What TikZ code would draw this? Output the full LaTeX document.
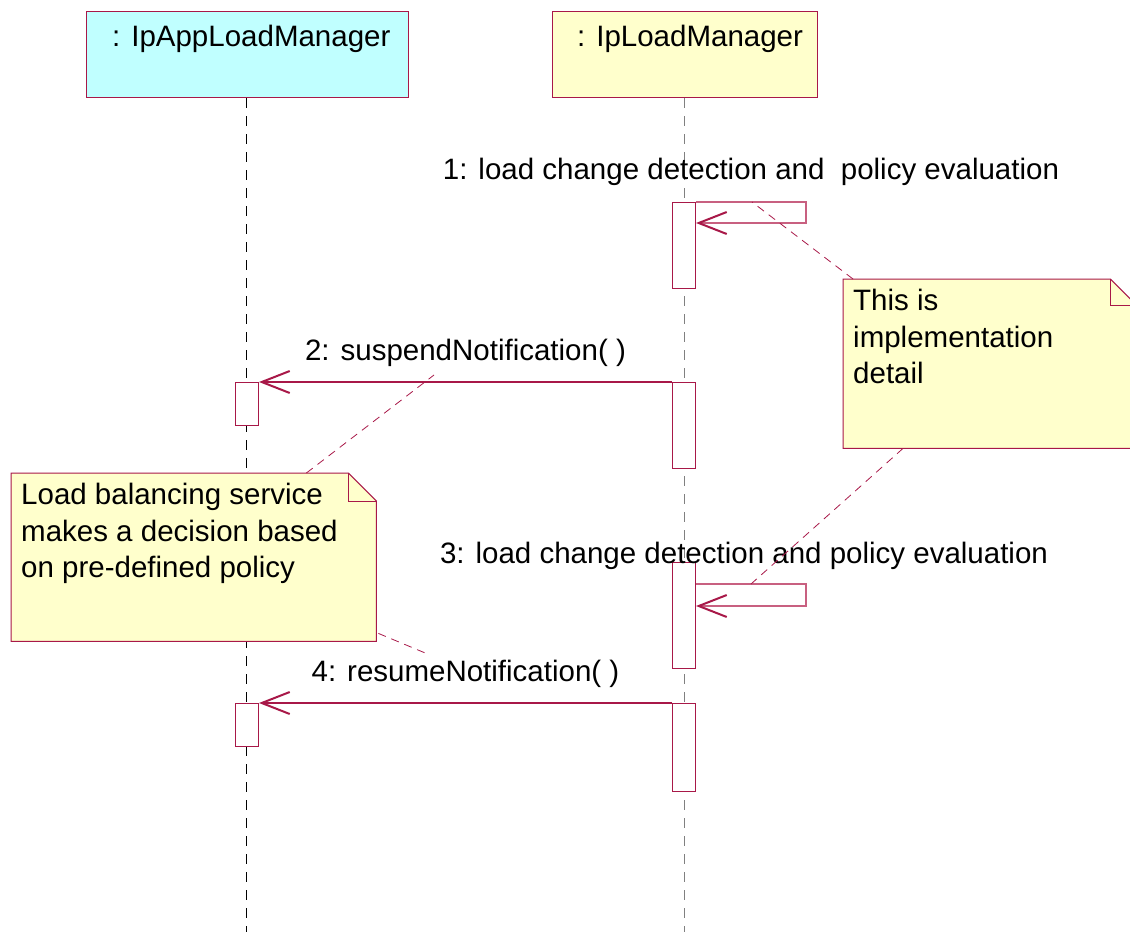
\documentclass[tikz,border=0pt]{standalone}
\usepackage{fontspec}
\setmainfont{Liberation Sans}
\usetikzlibrary{arrows.meta,calc}
\definecolor{umlred}{RGB}{168,24,72}
\definecolor{umlpink}{RGB}{200,96,128}
\definecolor{appcyan}{RGB}{192,255,255}
\definecolor{noteyellow}{RGB}{255,255,204}
\tikzset{
  headbox/.style={draw=umlred,line width=1pt,anchor=north west,inner sep=0pt},
  lifeline/.style={dash pattern=on 10pt off 8pt,line width=1pt},
  actbox/.style={draw=umlred,fill=white,line width=1pt,minimum width=23pt,anchor=north,inner sep=0pt},
  msg/.style={draw=umlred,line width=1.3pt,-{Straight Barb[length=28pt,width=22pt,line width=2pt]}},
  selfmsg/.style={draw=umlpink,line width=1.3pt,-{Straight Barb[length=28pt,width=22pt,line width=2pt,color=umlred]}},
  notelink/.style={draw=umlred,dash pattern=on 8pt off 6pt,line width=0.8pt},
  notebody/.style={draw=umlred,fill=noteyellow,line width=1pt},
  txt/.style={inner sep=0pt,font=\fontsize{29.5}{36.5}\selectfont},
}

\begin{document}
\begin{tikzpicture}[x=1pt,y=-1pt]
        \useasboundingbox (0,0) rectangle (1130,932);
        % objects
        \node[headbox,fill=appcyan,minimum width=322pt,minimum height=86pt] (app) at (86,11) {};
        \node[headbox,fill=noteyellow,minimum width=265pt,minimum height=86pt] (lm) at (552,11) {};
        \node[txt,anchor=base west] (appname) at (112,46) {: IpAppLoadManager};
        \node[txt,anchor=base west] (lmname) at (577,46) {: IpLoadManager};
        \coordinate (append) at (246,932);
        \coordinate (lmend) at (684,932);
        \draw[lifeline] (app.south -| append) -- (append);
        \draw[lifeline,draw=gray] (lm.south -| lmend) -- (lmend);
        % activations
        \node[actbox,minimum height=86pt] (lm1) at (684,202) {};
        \node[actbox,minimum height=86pt] (lm2) at (684,382) {};
        \node[actbox,minimum height=106pt] (lm3) at (684,562) {};
        \node[actbox,minimum height=88pt] (lm4) at (684,703) {};
        \node[actbox,minimum height=43pt] (ap1) at (247,382) {};
        \node[actbox,minimum height=43pt] (ap2) at (247,703) {};
        % messages
        \draw[selfmsg] (lm1.north east) -- ++(110,0) -- ++(0,21) -- ++(-110,0);
        \node[txt,anchor=base] (lab1) at ([xshift=55pt,yshift=23pt]lm1.north east) {1: load change detection and\ \ policy evaluation};
        \draw[msg] (lm2.north west) -- node[txt,anchor=base,yshift=22pt] (lab2) {2: suspendNotification( )} (ap1.north east);
        \coordinate (self3) at ([yshift=-22pt]lm3.north east);
        \draw[selfmsg] (self3) -- ++(110,0) -- ++(0,22) -- ++(-110,0);
        \node[txt,anchor=base] (lab3) at ([xshift=48pt,yshift=21pt]self3) {3: load change detection and policy evaluation};
        \draw[msg] (lm4.north west) -- node[txt,anchor=base,yshift=22pt] (lab4) {4: resumeNotification( )} (ap2.north east);
        % notes
        \node[minimum width=293pt,minimum height=169pt,anchor=north west,inner sep=0pt] (n1) at (843,279) {};
        \filldraw[notebody] (n1.north west) -- ([xshift=-26pt]n1.north east) -- ([yshift=-26pt]n1.north east) -- (n1.south east) -- (n1.south west) -- cycle;
        \draw[notebody,fill=none] ([xshift=-26pt]n1.north east) -- ([xshift=-26pt,yshift=-26pt]n1.north east) -- ([yshift=-26pt]n1.north east);
        \node[txt,anchor=north west,align=left] (n1text) at (853,289) {This is\\implementation\\detail};
        \node[minimum width=365pt,minimum height=168pt,anchor=north west,inner sep=0pt] (n2) at (11,473) {};
        \filldraw[notebody] (n2.north west) -- ([xshift=-28pt]n2.north east) -- ([yshift=-28pt]n2.north east) -- (n2.south east) -- (n2.south west) -- cycle;
        \draw[notebody,fill=none] ([xshift=-28pt]n2.north east) -- ([xshift=-28pt,yshift=-28pt]n2.north east) -- ([yshift=-28pt]n2.north east);
        \node[txt,anchor=north west,align=left] (n2text) at (21,483) {Load balancing service\\makes a decision based\\on pre-defined policy};
        % note links
        \coordinate (lk2) at (434,375);
        \coordinate (lk4) at (430,655);
        \draw[notelink] ([xshift=10pt]n1.north west) -- ([xshift=56pt]lm1.north east);
        \draw[notelink] ([xshift=60pt]n1.south west) -- ([xshift=55pt]self3);
        \draw[notelink] ([xshift=-70pt]n2.north east) -- (lk2);
        \draw[notelink] ([xshift=2pt,yshift=8pt]n2.south east) -- (lk4);
\end{tikzpicture}
\end{document}
